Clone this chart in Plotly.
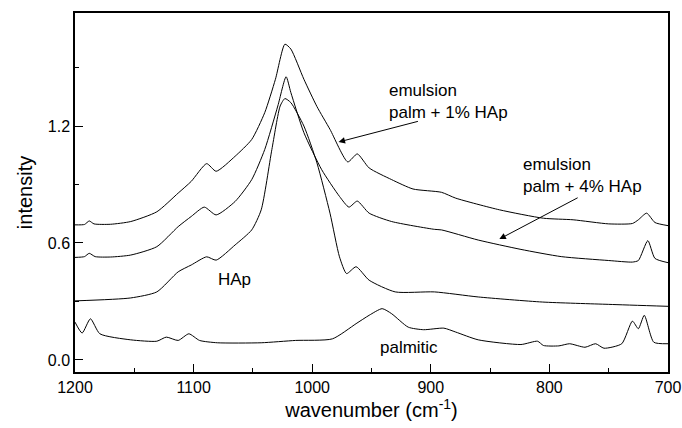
import plotly.graph_objects as go

# emulsion palm + 1% HAp
x_e1 = [1200, 1192, 1188, 1184, 1170, 1153, 1131, 1113, 1102, 1089, 1081, 1065, 1051, 1040, 1031, 1023, 1018, 1007, 996, 985, 970, 962, 952, 933, 915, 891, 879, 842, 805, 780, 750, 730, 725, 718, 711, 700]
y_e1 = [0.693, 0.695, 0.713, 0.698, 0.696, 0.71, 0.76, 0.856, 0.916, 1.007, 0.968, 1.045, 1.131, 1.269, 1.44, 1.62, 1.595, 1.44, 1.30, 1.183, 1.016, 1.057, 0.985, 0.925, 0.877, 0.86, 0.83, 0.77, 0.727, 0.719, 0.698, 0.70, 0.719, 0.753, 0.705, 0.689]

# emulsion palm + 4% HAp
x_e4 = [1200, 1192, 1188, 1183, 1170, 1153, 1131, 1113, 1102, 1091, 1081, 1065, 1051, 1040, 1029, 1022, 1018, 1007, 992, 977, 969, 962, 952, 933, 897, 891, 860, 824, 790, 750, 730, 725, 717, 711, 700]
y_e4 = [0.526, 0.53, 0.547, 0.53, 0.528, 0.538, 0.581, 0.684, 0.736, 0.784, 0.744, 0.813, 0.925, 1.08, 1.303, 1.453, 1.372, 1.166, 0.976, 0.839, 0.784, 0.815, 0.753, 0.71, 0.67, 0.667, 0.615, 0.567, 0.53, 0.51, 0.502, 0.51, 0.612, 0.521, 0.499]

# HAp
x_hap = [1200, 1153, 1131, 1113, 1102, 1089, 1081, 1065, 1051, 1043, 1034, 1027, 1023, 1018, 1007, 996, 985, 977, 971, 963, 952, 930, 897, 860, 806, 750, 700]
y_hap = [0.303, 0.318, 0.349, 0.452, 0.487, 0.529, 0.512, 0.59, 0.667, 0.77, 1.08, 1.303, 1.341, 1.32, 1.2, 1.011, 0.753, 0.529, 0.443, 0.478, 0.409, 0.349, 0.349, 0.323, 0.297, 0.285, 0.275]

# palmitic
x_pal = [1200, 1194, 1187, 1179, 1153, 1131, 1123, 1113, 1104, 1095, 1080, 1043, 1014, 983, 963, 952, 941, 933, 919, 906, 889, 879, 860, 824, 810, 805, 792, 783, 770, 761, 754, 739, 730, 725, 720, 712, 700]
y_pal = [0.194, 0.138, 0.211, 0.134, 0.103, 0.096, 0.117, 0.10, 0.134, 0.10, 0.088, 0.088, 0.10, 0.108, 0.186, 0.229, 0.263, 0.237, 0.168, 0.155, 0.163, 0.143, 0.103, 0.079, 0.096, 0.074, 0.072, 0.083, 0.065, 0.083, 0.06, 0.083, 0.199, 0.16, 0.229, 0.091, 0.083]

series = [(x_e1, y_e1), (x_e4, y_e4), (x_hap, y_hap), (x_pal, y_pal)]

font_family = "Liberation Sans, Arial, sans-serif"

fig = go.Figure()
for xs, ys in series:
    fig.add_trace(go.Scatter(x=xs, y=ys, mode="lines",
                             line=dict(color="black", width=1, shape="spline", smoothing=0.6),
                             showlegend=False, hoverinfo="skip"))

fig.update_layout(
    width=682, height=428,
    margin=dict(l=75, r=14, t=13, b=56),
    paper_bgcolor="white", plot_bgcolor="white",
    font=dict(family=font_family, size=16, color="black"),
)

fig.update_xaxes(
    range=[1200, 700], tickmode="array", tickvals=[1200, 1100, 1000, 900, 800, 700],
    ticks="inside", ticklen=8, tickwidth=1, tickcolor="black",
    minor=dict(tickvals=[1150, 1050, 950, 850, 750], ticks="inside", ticklen=4, tickcolor="black"),
    showline=True, linecolor="black", linewidth=1.5, mirror=True, automargin=False,
    showgrid=False, zeroline=False, tickfont=dict(size=16),
    title=dict(text="wavenumber (cm<sup>-1</sup>)", font=dict(size=20), standoff=6),
)
fig.update_yaxes(
    range=[-0.062, 1.78], tickmode="array", tickvals=[0.0, 0.6, 1.2], ticktext=["0.0", "0.6", "1.2"],
    ticks="inside", ticklen=8, tickwidth=1, tickcolor="black",
    minor=dict(tickvals=[0.3, 0.9, 1.5], ticks="inside", ticklen=4, tickcolor="black"),
    showline=True, linecolor="black", linewidth=1.5, mirror=True, automargin=False,
    showgrid=False, zeroline=False, tickfont=dict(size=16),
    title=dict(text="intensity", font=dict(size=20), standoff=10),
)

ann_font = dict(family=font_family, size=17, color="black")
fig.add_annotation(x=937, y=1.328, text="emulsion<br>palm + 1% HAp", showarrow=False,
                   xanchor="left", yanchor="middle", align="left", font=ann_font)
fig.add_annotation(x=977.8, y=1.118, ax=909.6, ay=1.226, xref="x", yref="y", axref="x", ayref="y",
                   text="", showarrow=True, arrowhead=2, arrowsize=1.3, arrowwidth=1, arrowcolor="black")
fig.add_annotation(x=823.7, y=0.944, text="emulsion<br>palm + 4% HAp", showarrow=False,
                   xanchor="left", yanchor="middle", align="left", font=ann_font)
fig.add_annotation(x=842.2, y=0.62, ax=774.9, ay=0.836, xref="x", yref="y", axref="x", ayref="y",
                   text="", showarrow=True, arrowhead=2, arrowsize=1.3, arrowwidth=1, arrowcolor="black")
fig.add_annotation(x=1081.3, y=0.415, text="HAp", showarrow=False, xanchor="left", yanchor="middle", font=ann_font)
fig.add_annotation(x=944.9, y=0.062, text="palmitic", showarrow=False, xanchor="left", yanchor="middle", font=ann_font)

fig.write_html("out.html")
